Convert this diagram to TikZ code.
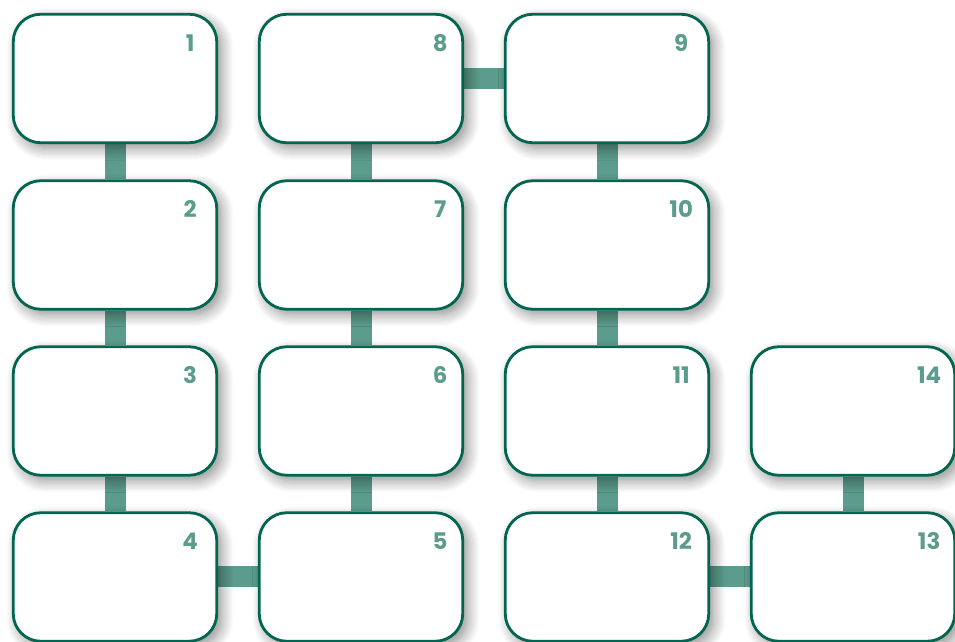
\documentclass[tikz,border=0pt]{standalone}
\usepackage{fontspec}
\newfontfamily\numfont{Poppins}
\usetikzlibrary{calc,backgrounds,shadows.blur}
\definecolor{sbgreen}{HTML}{00664F}
\definecolor{sbteal}{HTML}{5C9C8C}
\tikzset{
  sbbox/.style ={rectangle, rounded corners=0.55cm, draw=sbgreen, fill=white,
                 line width=1.6pt, minimum width=4.07cm, minimum height=2.57cm,
                 inner sep=0pt,
                 blur shadow={shadow xshift=0.10cm, shadow yshift=-0.11cm,
                              shadow blur steps=10, shadow blur radius=0.24cm,
                              shadow opacity=45}},
  sbnum/.style ={font=\numfont\bfseries\fontsize{13}{15}\selectfont, text=sbteal,
                 inner sep=0pt},
  sblink/.style={draw=sbteal, line width=0.42cm},
}
\begin{document}
\begin{tikzpicture}
  \useasboundingbox (0,0) rectangle (19.1,12.84);
  % boxes, column by column
  \node[sbbox] (b1)  at (2.30,11.27) {};
  \node[sbbox] (b2)  at (2.30,7.94)  {};
  \node[sbbox] (b3)  at (2.30,4.62)  {};
  \node[sbbox] (b4)  at (2.30,1.30)  {};
  \node[sbbox] (b5)  at (7.22,1.30)  {};
  \node[sbbox] (b6)  at (7.22,4.62)  {};
  \node[sbbox] (b7)  at (7.22,7.94)  {};
  \node[sbbox] (b8)  at (7.22,11.27) {};
  \node[sbbox] (b9)  at (12.14,11.27) {};
  \node[sbbox] (b10) at (12.14,7.94)  {};
  \node[sbbox] (b11) at (12.14,4.62)  {};
  \node[sbbox] (b12) at (12.14,1.30)  {};
  \node[sbbox] (b13) at (17.06,1.30)  {};
  \node[sbbox] (b14) at (17.06,4.62)  {};
  % numbers in the top right corners
  \node[sbnum] (n1)  at ($(b1.north east)+(-0.56,-0.60)$)  {1};
  \node[sbnum] (n2)  at ($(b2.north east)+(-0.56,-0.60)$)  {2};
  \node[sbnum] (n3)  at ($(b3.north east)+(-0.56,-0.60)$)  {3};
  \node[sbnum] (n4)  at ($(b4.north east)+(-0.56,-0.60)$)  {4};
  \node[sbnum] (n5)  at ($(b5.north east)+(-0.48,-0.60)$)  {5};
  \node[sbnum] (n6)  at ($(b6.north east)+(-0.48,-0.60)$)  {6};
  \node[sbnum] (n7)  at ($(b7.north east)+(-0.48,-0.60)$)  {7};
  \node[sbnum] (n8)  at ($(b8.north east)+(-0.48,-0.60)$)  {8};
  \node[sbnum] (n9)  at ($(b9.north east)+(-0.58,-0.60)$)  {9};
  \node[sbnum] (n10) at ($(b10.north east)+(-0.58,-0.60)$) {10};
  \node[sbnum] (n11) at ($(b11.north east)+(-0.58,-0.60)$) {11};
  \node[sbnum] (n12) at ($(b12.north east)+(-0.58,-0.60)$) {12};
  \node[sbnum] (n13) at ($(b13.north east)+(-0.54,-0.60)$) {13};
  \node[sbnum] (n14) at ($(b14.north east)+(-0.54,-0.60)$) {14};
  % links behind the boxes
  \begin{scope}[on background layer]
    \draw[sblink] (b1) -- (b2);
    \draw[sblink] (b2) -- (b3);
    \draw[sblink] (b3) -- (b4);
    \draw[sblink] (b4) -- (b5);
    \draw[sblink] (b5) -- (b6);
    \draw[sblink] (b6) -- (b7);
    \draw[sblink] (b7) -- (b8);
    \draw[sblink] (b8) -- (b9);
    \draw[sblink] (b9) -- (b10);
    \draw[sblink] (b10) -- (b11);
    \draw[sblink] (b11) -- (b12);
    \draw[sblink] (b12) -- (b13);
    \draw[sblink] (b13) -- (b14);
  \end{scope}
\end{tikzpicture}
\end{document}
